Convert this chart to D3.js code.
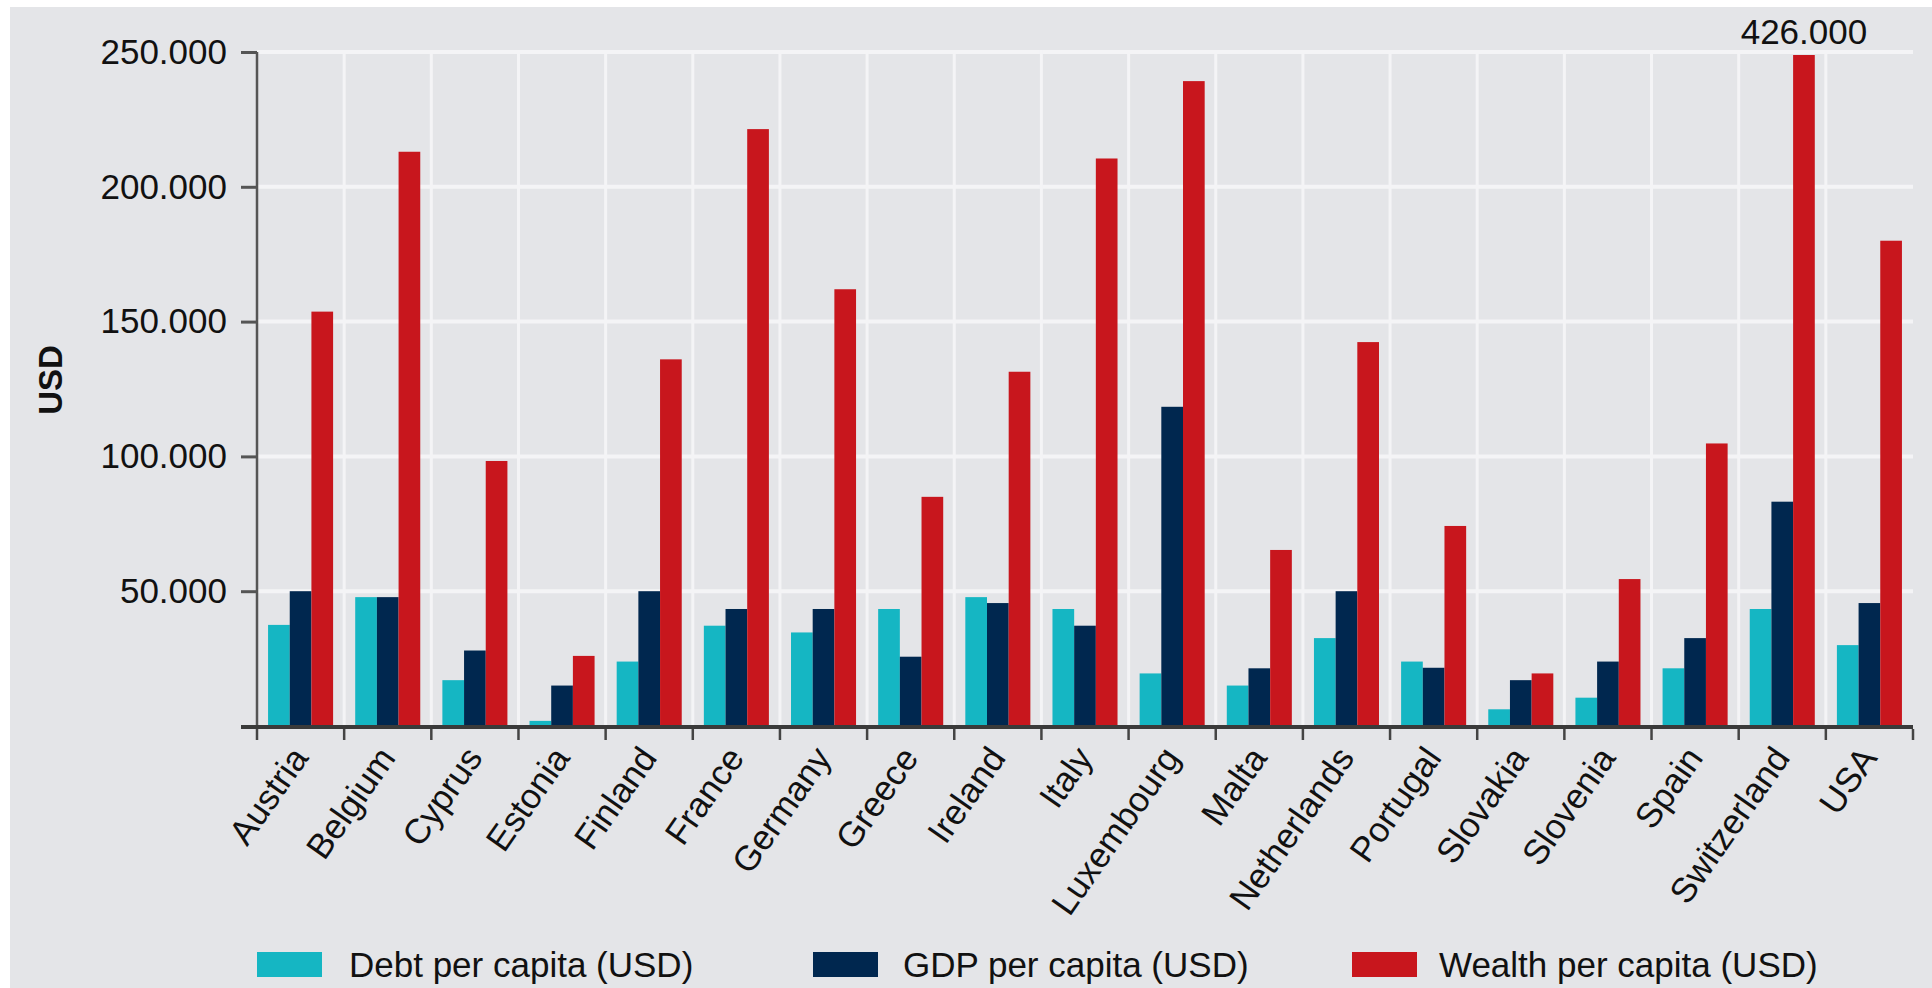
<!DOCTYPE html>
<html>
<head>
<meta charset="utf-8">
<script src="https://cdn.jsdelivr.net/npm/d3@7"></script>
<style>
  html, body { margin: 0; padding: 0; background: #ffffff; }
  svg { display: block; }
  text { font-family: "Liberation Sans", Arial, sans-serif; fill: #111; }
</style>
</head>
<body>
<svg id="chart" width="1932" height="988"></svg>
<script>
// ---- data ----
const categories = ["Austria","Belgium","Cyprus","Estonia","Finland","France","Germany","Greece","Ireland","Italy","Luxembourg","Malta","Netherlands","Portugal","Slovakia","Slovenia","Spain","Switzerland","USA"];
const seriesNames = ["Debt per capita (USD)","GDP per capita (USD)","Wealth per capita (USD)"];
const debt   = [37500, 47800, 17000, 1900, 23900, 37200, 34700, 43400, 47800, 43400, 19500, 15000, 32600, 23900, 6200, 10500, 21400, 43400, 30000];
const gdp    = [50000, 47800, 28000, 15000, 50000, 43400, 43400, 25700, 45600, 37200, 118400, 21400, 50000, 21600, 17000, 23900, 32600, 83200, 45600];
const wealth = [153700, 213000, 98300, 26000, 136000, 221400, 162000, 85000, 131400, 210500, 239200, 65300, 142400, 74200, 19500, 54500, 104800, 426000, 180000];
const yTicks = [0, 50000, 100000, 150000, 200000, 250000];
const yMax = 250000;
const colors = ["#15b6c3", "#00274f", "#c8161d"];

// ---- layout ----
const svg = d3.select("#chart");
const W = 1932, H = 988;
const pLeft = 257, pRight = 1913, pTop = 52, pBottom = 726;

svg.append("rect").attr("x", 10).attr("y", 7).attr("width", W - 10).attr("height", H - 7).attr("fill", "#e4e5e8");

const x = d3.scaleBand().domain(categories).range([pLeft, pRight]).paddingInner(0).paddingOuter(0);
const x1 = d3.scaleBand().domain(seriesNames).range([0, x.bandwidth()]).paddingInner(0).paddingOuter(0.51);
const y = d3.scaleLinear().domain([0, yMax]).range([pBottom, pTop]);

const loc = d3.formatLocale({decimal: ",", thousands: ".", grouping: [3], currency: ["", ""]});
const fmt = loc.format(",.0f");

// grid lines
const grid = svg.append("g");
grid.selectAll("line.h").data(yTicks.filter(d => d > 0)).join("line")
  .attr("x1", pLeft).attr("x2", pRight)
  .attr("y1", d => y(d)).attr("y2", d => y(d))
  .attr("stroke", "#f4f4f6").attr("stroke-width", 4);
const bounds = categories.map(c => x(c) + x.bandwidth()).slice(0, -1);
grid.selectAll("line.v").data(bounds).join("line")
  .attr("x1", d => d).attr("x2", d => d)
  .attr("y1", pTop - 2).attr("y2", pBottom)
  .attr("stroke", "#f4f4f6").attr("stroke-width", 3);

// bars
const series = [debt, gdp, wealth];
const groups = svg.append("g").selectAll("g").data(categories).join("g")
  .attr("transform", d => `translate(${x(d)},0)`);
groups.selectAll("rect").data((c, i) => series.map((s, k) => ({name: seriesNames[k], v: s[i], k})))
  .join("rect")
  .attr("x", d => x1(d.name))
  .attr("width", x1.bandwidth())
  .attr("y", d => y(Math.min(d.v, yMax)) + (d.v > yMax ? 3 : 0))
  .attr("height", d => pBottom - y(Math.min(d.v, yMax)) - (d.v > yMax ? 3 : 0))
  .attr("fill", d => colors[d.k]);

// off-scale label
wealth.forEach((v, i) => {
  if (v > yMax) {
    svg.append("text")
      .attr("x", x(categories[i]) + x1(seriesNames[2]) + x1.bandwidth() / 2)
      .attr("y", 44)
      .attr("text-anchor", "middle")
      .attr("font-size", 35)
      .text(fmt(v));
  }
});

// y axis
const yAxis = d3.axisLeft(y).tickValues(yTicks).tickSize(16).tickPadding(14)
  .tickFormat(d => d === 0 ? "" : fmt(d));
const gy = svg.append("g").attr("transform", `translate(${pLeft},0)`).call(yAxis);
gy.select(".domain").attr("stroke", "#555").attr("stroke-width", 2.5).attr("d", `M0,${pTop}V${pBottom}`);
gy.selectAll(".tick line").attr("stroke", "#555").attr("stroke-width", 3);
gy.selectAll(".tick text").attr("font-size", 35).attr("font-family", "Liberation Sans, Arial, sans-serif").attr("fill", "#111");

// x axis
const xAxis = d3.axisBottom(x).tickSize(0).tickFormat("");
const gx = svg.append("g").attr("transform", `translate(0,${pBottom})`).call(xAxis);
gx.select(".domain").attr("stroke", "#3a3a3a").attr("stroke-width", 4).attr("d", `M${pLeft - 16},1H${pRight}`);
gx.selectAll(".tick").remove();
const tickPos = [pLeft].concat(categories.map(c => x(c) + x.bandwidth()));
gx.selectAll("line.tk").data(tickPos).join("line")
  .attr("x1", d => d).attr("x2", d => d).attr("y1", 3).attr("y2", 14)
  .attr("stroke", "#444").attr("stroke-width", 2.5);

// category labels
svg.append("g").selectAll("text").data(categories).join("text")
  .attr("transform", d => `translate(${x(d) + x.bandwidth() / 2 + 9},758) rotate(-55)`)
  .attr("text-anchor", "end")
  .attr("font-size", 35)
  .text(d => d);

// y axis title
svg.append("text")
  .attr("transform", "translate(62,380) rotate(-90)")
  .attr("text-anchor", "middle")
  .attr("font-size", 33)
  .attr("font-weight", "bold")
  .text("USD");

// legend
const legendX = [257, 813, 1352];
const legendTextOff = [92, 90, 87];
const lg = svg.append("g").selectAll("g").data(seriesNames).join("g")
  .attr("transform", (d, i) => `translate(${legendX[i]},952)`);
lg.append("rect").attr("width", 65).attr("height", 25).attr("fill", (d, i) => colors[i]);
lg.append("text").attr("x", (d, i) => legendTextOff[i]).attr("y", 25).attr("font-size", 35).text(d => d);
</script>
</body>
</html>
